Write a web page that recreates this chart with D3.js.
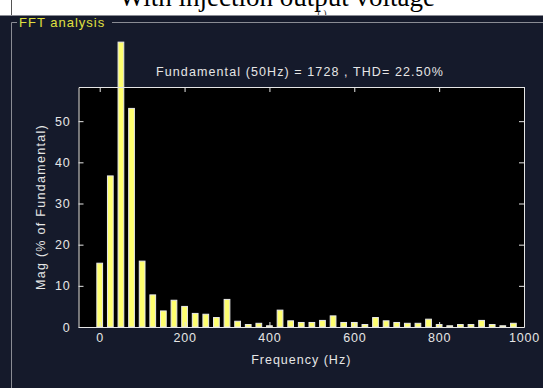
<!DOCTYPE html>
<html>
<head>
<meta charset="utf-8">
<script src="https://cdn.jsdelivr.net/npm/d3@7"></script>
<style>
  html, body { margin: 0; padding: 0; background: #ffffff; }
  svg { display: block; }
  text { font-family: "Liberation Sans", Arial, sans-serif; }
</style>
</head>
<body>
<div id="chart"></div>
<script>
// FFT spectrum - harmonic magnitudes in % of fundamental

// Data
const freqs = [0, 25, 50, 75, 100, 125, 150, 175, 200, 225,
               250, 275, 300, 325, 350, 375, 400, 425, 450, 475,
               500, 525, 550, 575, 600, 625, 650, 675, 700, 725,
               750, 775, 800, 825, 850, 875, 900, 925, 950, 975];
const mags = [15.5, 36.7, 69.2, 53.1, 16.0, 7.8, 3.9, 6.5, 5.0, 3.3,
              3.1, 2.3, 6.7, 1.4, 0.6, 0.9, 0.3, 4.1, 1.5, 1.1,
              1.1, 1.6, 2.7, 1.1, 1.1, 0.6, 2.3, 1.5, 1.1, 0.9,
              0.9, 1.9, 0.6, 0.3, 0.6, 0.6, 1.6, 0.6, 0.3, 0.9];
const xTicks = [0, 200, 400, 600, 800, 1000];
const yTicks = [0, 10, 20, 30, 40, 50];

const titleText = 'With injection output voltage';
const panelTitle = 'FFT analysis';
const infoText = 'Fundamental (50Hz) = 1728 , THD= 22.50%';
const xLabel = 'Frequency (Hz)';
const yLabel = 'Mag (% of Fundamental)';

const width = 543;
const height = 388;
const plot = { left: 78.5, right: 524, top: 87, bottom: 327 };

const svg = d3.select('#chart')
    .append('svg')
    .attr('width', width)
    .attr('height', height);

// white strip with cropped figure caption
svg.append('rect')
    .attr('x', 0).attr('y', 0)
    .attr('width', width).attr('height', 15)
    .style('fill', '#ffffff');
svg.append('text')
    .attr('x', 277).attr('y', 6)
    .attr('text-anchor', 'middle')
    .style('font-family', '"Liberation Serif", "Times New Roman", serif')
    .style('font-size', '27px')
    .style('fill', '#000')
    .text(titleText);
svg.append('text')
    .attr('x', 322).attr('y', 17)
    .attr('text-anchor', 'middle')
    .style('font-family', '"Liberation Serif", serif')
    .style('font-size', '10px')
    .style('fill', '#333')
    .text('( )');

// dark figure background
svg.append('rect')
    .attr('x', 0).attr('y', 15)
    .attr('width', width).attr('height', height - 15)
    .style('fill', '#151a2b');
svg.append('line')
    .attr('x1', 0).attr('x2', width)
    .attr('y1', 15.5).attr('y2', 15.5)
    .style('stroke', '#8a8c94');
svg.append('line')
    .attr('x1', 11.5).attr('x2', 11.5)
    .attr('y1', 0).attr('y2', 15)
    .style('stroke', '#555');

// group box frame
const frame = svg.append('g').style('stroke', '#8a8c94').style('fill', 'none');
frame.append('path')
    .attr('d', `M17,22.5 H11.5 V${height}`);
frame.append('path')
    .attr('d', `M112,22.5 H${width}`);
svg.append('text')
    .attr('x', 19).attr('y', 27)
    .style('font-size', '13px')
    .style('letter-spacing', '1px')
    .style('fill', '#e0e040')
    .text(panelTitle);

// scales
const x = d3.scaleLinear().domain([-50, 1000]).range([plot.left, plot.right]);
const y = d3.scaleLinear().domain([0, 58.3]).range([plot.bottom, plot.top]);

// plot area
svg.append('rect')
    .attr('x', plot.left).attr('y', plot.top)
    .attr('width', plot.right - plot.left)
    .attr('height', plot.bottom - plot.top)
    .style('fill', '#000000');

// bars (not clipped, the 50 Hz bar runs over the top)
const barW = x(13.5) - x(0);
svg.append('g')
    .selectAll('rect')
    .data(freqs)
    .enter().append('rect')
    .attr('x', (d) => x(d) - barW / 2)
    .attr('y', (d, i) => y(mags[i]))
    .attr('width', barW)
    .attr('height', (d, i) => y(0) - y(mags[i]))
    .style('fill', '#ffff70')
    .style('stroke', '#e8e8e8')
    .style('stroke-width', 1);

// axes with inward ticks, box style
const axisColor = '#e6e6e6';
function styleAxis(g) {
    g.selectAll('path, line').style('stroke', axisColor);
    g.selectAll('text')
        .style('fill', axisColor)
        .style('font-size', '12.5px')
        .style('letter-spacing', '0.8px')
        .style('font-family', '"Liberation Sans", Arial, sans-serif');
}

svg.append('g')
    .attr('transform', `translate(0,${plot.bottom})`)
    .call(d3.axisBottom(x).tickValues(xTicks).tickFormat(d3.format('d'))
        .tickSizeInner(-5).tickSizeOuter(0).tickPadding(6))
    .call(styleAxis);
svg.append('g')
    .attr('transform', `translate(0,${plot.top})`)
    .call(d3.axisTop(x).tickValues(xTicks).tickSizeInner(-5).tickSizeOuter(0).tickFormat(''))
    .call(styleAxis);
svg.append('g')
    .attr('transform', `translate(${plot.left},0)`)
    .call(d3.axisLeft(y).tickValues(yTicks).tickSizeInner(-5).tickSizeOuter(0).tickPadding(8))
    .call(styleAxis);
svg.append('g')
    .attr('transform', `translate(${plot.right},0)`)
    .call(d3.axisRight(y).tickValues(yTicks).tickSizeInner(-5).tickSizeOuter(0).tickFormat(''))
    .call(styleAxis);

// annotation and axis labels
svg.append('text')
    .attr('x', 300).attr('y', 76)
    .attr('text-anchor', 'middle')
    .style('font-size', '12.5px')
    .style('letter-spacing', '1.1px')
    .style('fill', axisColor)
    .text(infoText);
svg.append('text')
    .attr('x', (plot.left + plot.right) / 2).attr('y', 364)
    .attr('text-anchor', 'middle')
    .style('font-size', '12.5px')
    .style('letter-spacing', '1px')
    .style('fill', axisColor)
    .text(xLabel);
svg.append('text')
    .attr('transform', `translate(45,${(plot.top + plot.bottom) / 2}) rotate(-90)`)
    .attr('text-anchor', 'middle')
    .style('font-size', '12.5px')
    .style('letter-spacing', '1.3px')
    .style('fill', axisColor)
    .text(yLabel);
</script>
</body>
</html>
